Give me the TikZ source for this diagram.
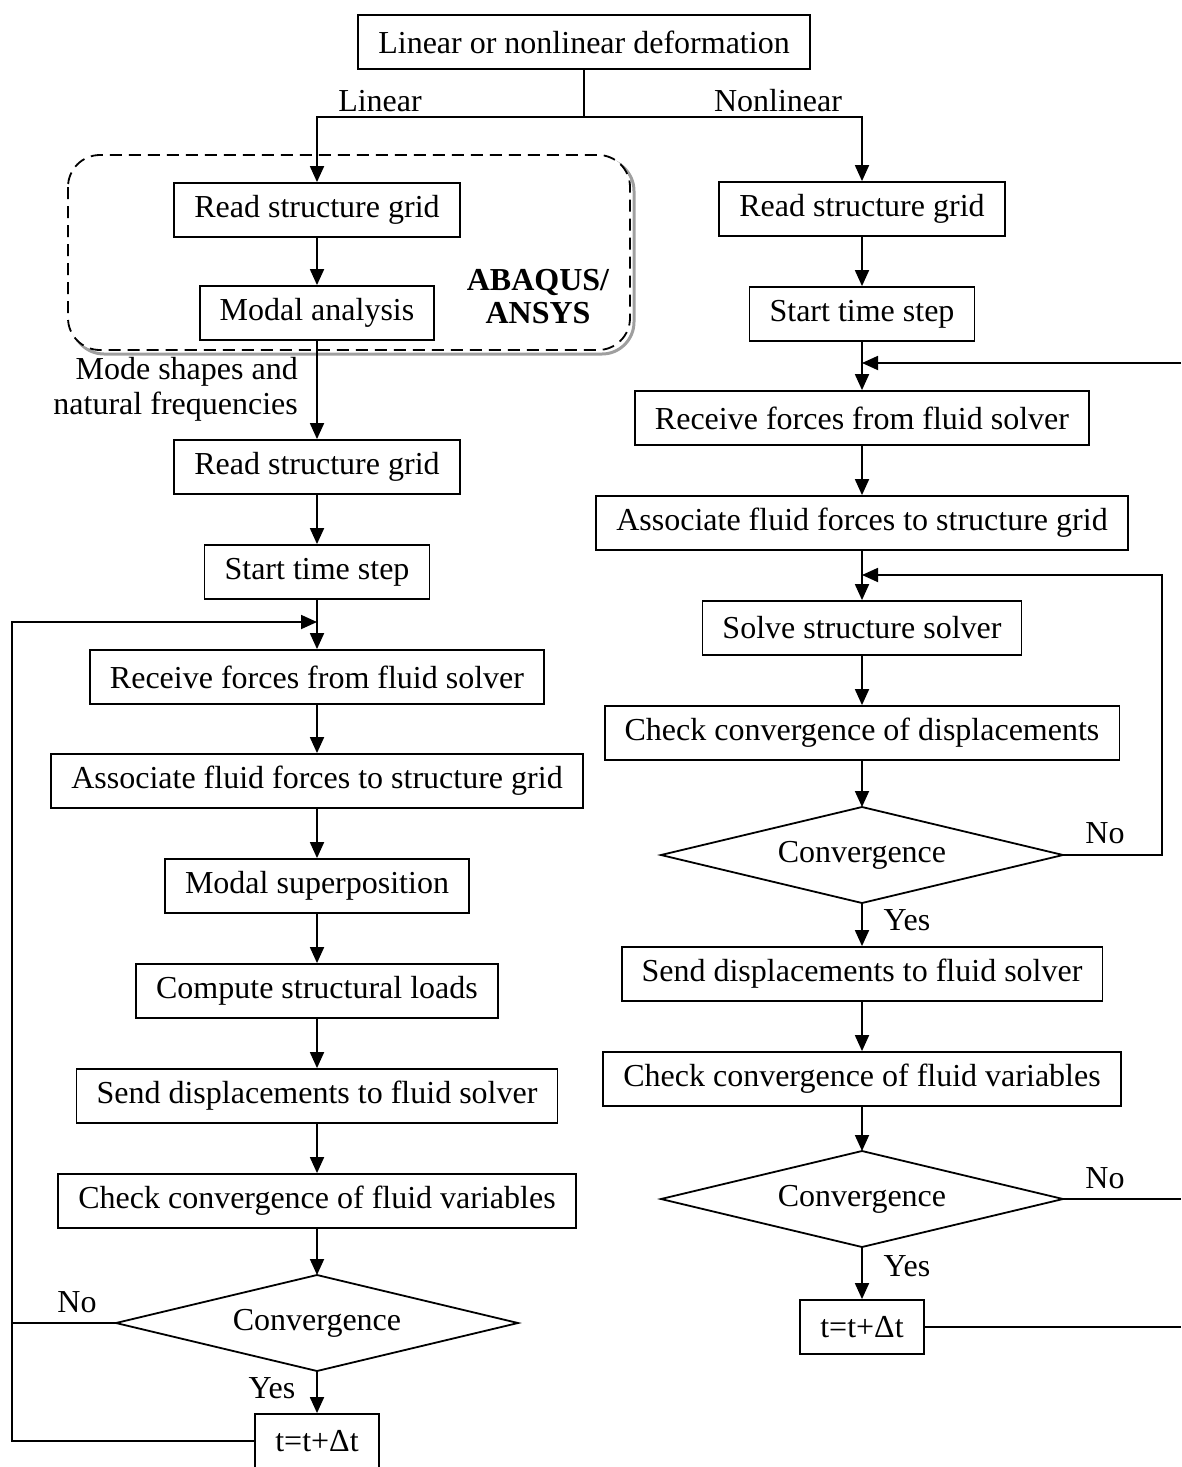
\documentclass[tikz,border=0pt]{standalone}
\usepackage{fontspec}
\setmainfont{Liberation Serif}
\usetikzlibrary{arrows.meta,calc}
\begin{document}
\begin{tikzpicture}[x=1pt,y=-1pt,
  every node/.style={font=\fontsize{32pt}{35pt}\selectfont},
  box/.style={draw,line width=1.8pt,minimum height=54pt,inner xsep=20pt,inner ysep=0pt},
  dectext/.style={inner sep=0pt},
  conn/.style={line width=1.8pt},
  arr/.style={line width=1.8pt,-{Triangle[length=16pt,width=14pt]}},
  lbl/.style={inner sep=0pt}]
\useasboundingbox (0,0) rectangle (1181,1467);
% dashed group with shadow
\draw[gray!75,line width=3pt,rounded corners=32pt] (72,159) rectangle (634,354);
\draw[line width=1.8pt,dash pattern=on 12pt off 7pt,fill=white,rounded corners=32pt] (68,155) rectangle (630,350);
% top
\node[box] (top) at (584,42) {Linear or nonlinear deformation};
\coordinate (split) at (584,117);
% left column
\node[box] (lr1) at (317,210) {Read structure grid};
\node[box] (lm) at (317,313) {Modal analysis};
\node[box] (lr2) at (317,467) {Read structure grid};
\node[box] (ls) at (317,572) {Start time step};
\node[box] (lrc) at (317,677) {Receive forces from fluid solver};
\node[box] (la) at (317,781) {Associate fluid forces to structure grid};
\node[box] (lms) at (317,886) {Modal superposition};
\node[box] (lc) at (317,991) {Compute structural loads};
\node[box] (lsd) at (317,1096) {Send displacements to fluid solver};
\node[box] (lcf) at (317,1201) {Check convergence of fluid variables};
\node[dectext] (ld) at (317,1323) {Convergence};
\node[box] (lt) at (317,1441) {t=t+Δt};
% right column
\node[box] (rr1) at (862,209) {Read structure grid};
\node[box] (rs) at (862,314) {Start time step};
\node[box] (rrc) at (862,418) {Receive forces from fluid solver};
\node[box] (ra) at (862,523) {Associate fluid forces to structure grid};
\node[box] (rso) at (862,628) {Solve structure solver};
\node[box] (rcd) at (862,733) {Check convergence of displacements};
\node[dectext] (rd1) at (862,855) {Convergence};
\node[box] (rsd) at (862,974) {Send displacements to fluid solver};
\node[box] (rcf) at (862,1079) {Check convergence of fluid variables};
\node[dectext] (rd2) at (862,1199) {Convergence};
\node[box] (rt) at (862,1327) {t=t+Δt};
% diamond outlines and their corner points
\foreach \d in {ld,rd1,rd2}{
  \coordinate (\d N) at ($(\d)+(0,-48)$);
  \coordinate (\d S) at ($(\d)+(0,48)$);
  \coordinate (\d W) at ($(\d)+(-201,0)$);
  \coordinate (\d E) at ($(\d)+(201,0)$);
  \draw[conn,line join=miter] (\d N) -- (\d E) -- (\d S) -- (\d W) -- cycle;
}
% labels
\node[lbl] (linlbl) at (380,101) {Linear};
\node[lbl] (nonlbl) at (778,101) {Nonlinear};
\node[lbl,font=\fontsize{32pt}{33pt}\selectfont\bfseries,align=center] (abq) at (538,297) {ABAQUS/\\ANSYS};
\node[lbl,align=right,anchor=east] (mode) at (298,389) {Mode shapes and\\natural frequencies};
\node[lbl] (lno) at (77,1302) {No};
\node[lbl] (lyes) at (272,1388) {Yes};
\node[lbl] (rno1) at (1105,833) {No};
\node[lbl] (ryes1) at (907,920) {Yes};
\node[lbl] (rno2) at (1105,1178) {No};
\node[lbl] (ryes2) at (907,1266) {Yes};
% coordinates for loops
\coordinate (lwest) at (12,0);
\coordinate (lin) at (317,622);
\coordinate (redge) at (1181,0);
\coordinate (rloop) at (1162,0);
\coordinate (rin1) at (862,363);
\coordinate (rin2) at (862,575);
% top connectors
\draw[conn] (top.south) -- (split);
\draw[arr] (split) -| (lr1.north);
\draw[arr] (split) -| (rr1.north);
% left column connectors
\draw[arr] (lr1) -- (lm);
\draw[arr] (lm) -- (lr2);
\draw[arr] (lr2) -- (ls);
\draw[arr] (ls) -- (lrc);
\draw[arr] (lrc) -- (la);
\draw[arr] (la) -- (lms);
\draw[arr] (lms) -- (lc);
\draw[arr] (lc) -- (lsd);
\draw[arr] (lsd) -- (lcf);
\draw[arr] (lcf) -- (ldN);
\draw[arr] (ldS) -- (lt);
\draw[conn] (ldW) -- (ldW -| lwest);
\draw[arr] (lt.west) -- (lt.west -| lwest) -- (lin -| lwest) -- (lin);
% right column connectors
\draw[arr] (rr1) -- (rs);
\draw[arr] (rs) -- (rrc);
\draw[arr] (rrc) -- (ra);
\draw[arr] (ra) -- (rso);
\draw[arr] (rso) -- (rcd);
\draw[arr] (rcd) -- (rd1N);
\draw[arr] (rd1S) -- (rsd);
\draw[arr] (rsd) -- (rcf);
\draw[arr] (rcf) -- (rd2N);
\draw[arr] (rd2S) -- (rt);
\draw[arr] (rd1E) -- (rd1E -| rloop) -- (rin2 -| rloop) -- (rin2);
\draw[arr] (rin1 -| redge) -- (rin1);
\draw[conn] (rd2E) -- (rd2E -| redge);
\draw[conn] (rt.east) -- (rt.east -| redge);
\end{tikzpicture}
\end{document}
